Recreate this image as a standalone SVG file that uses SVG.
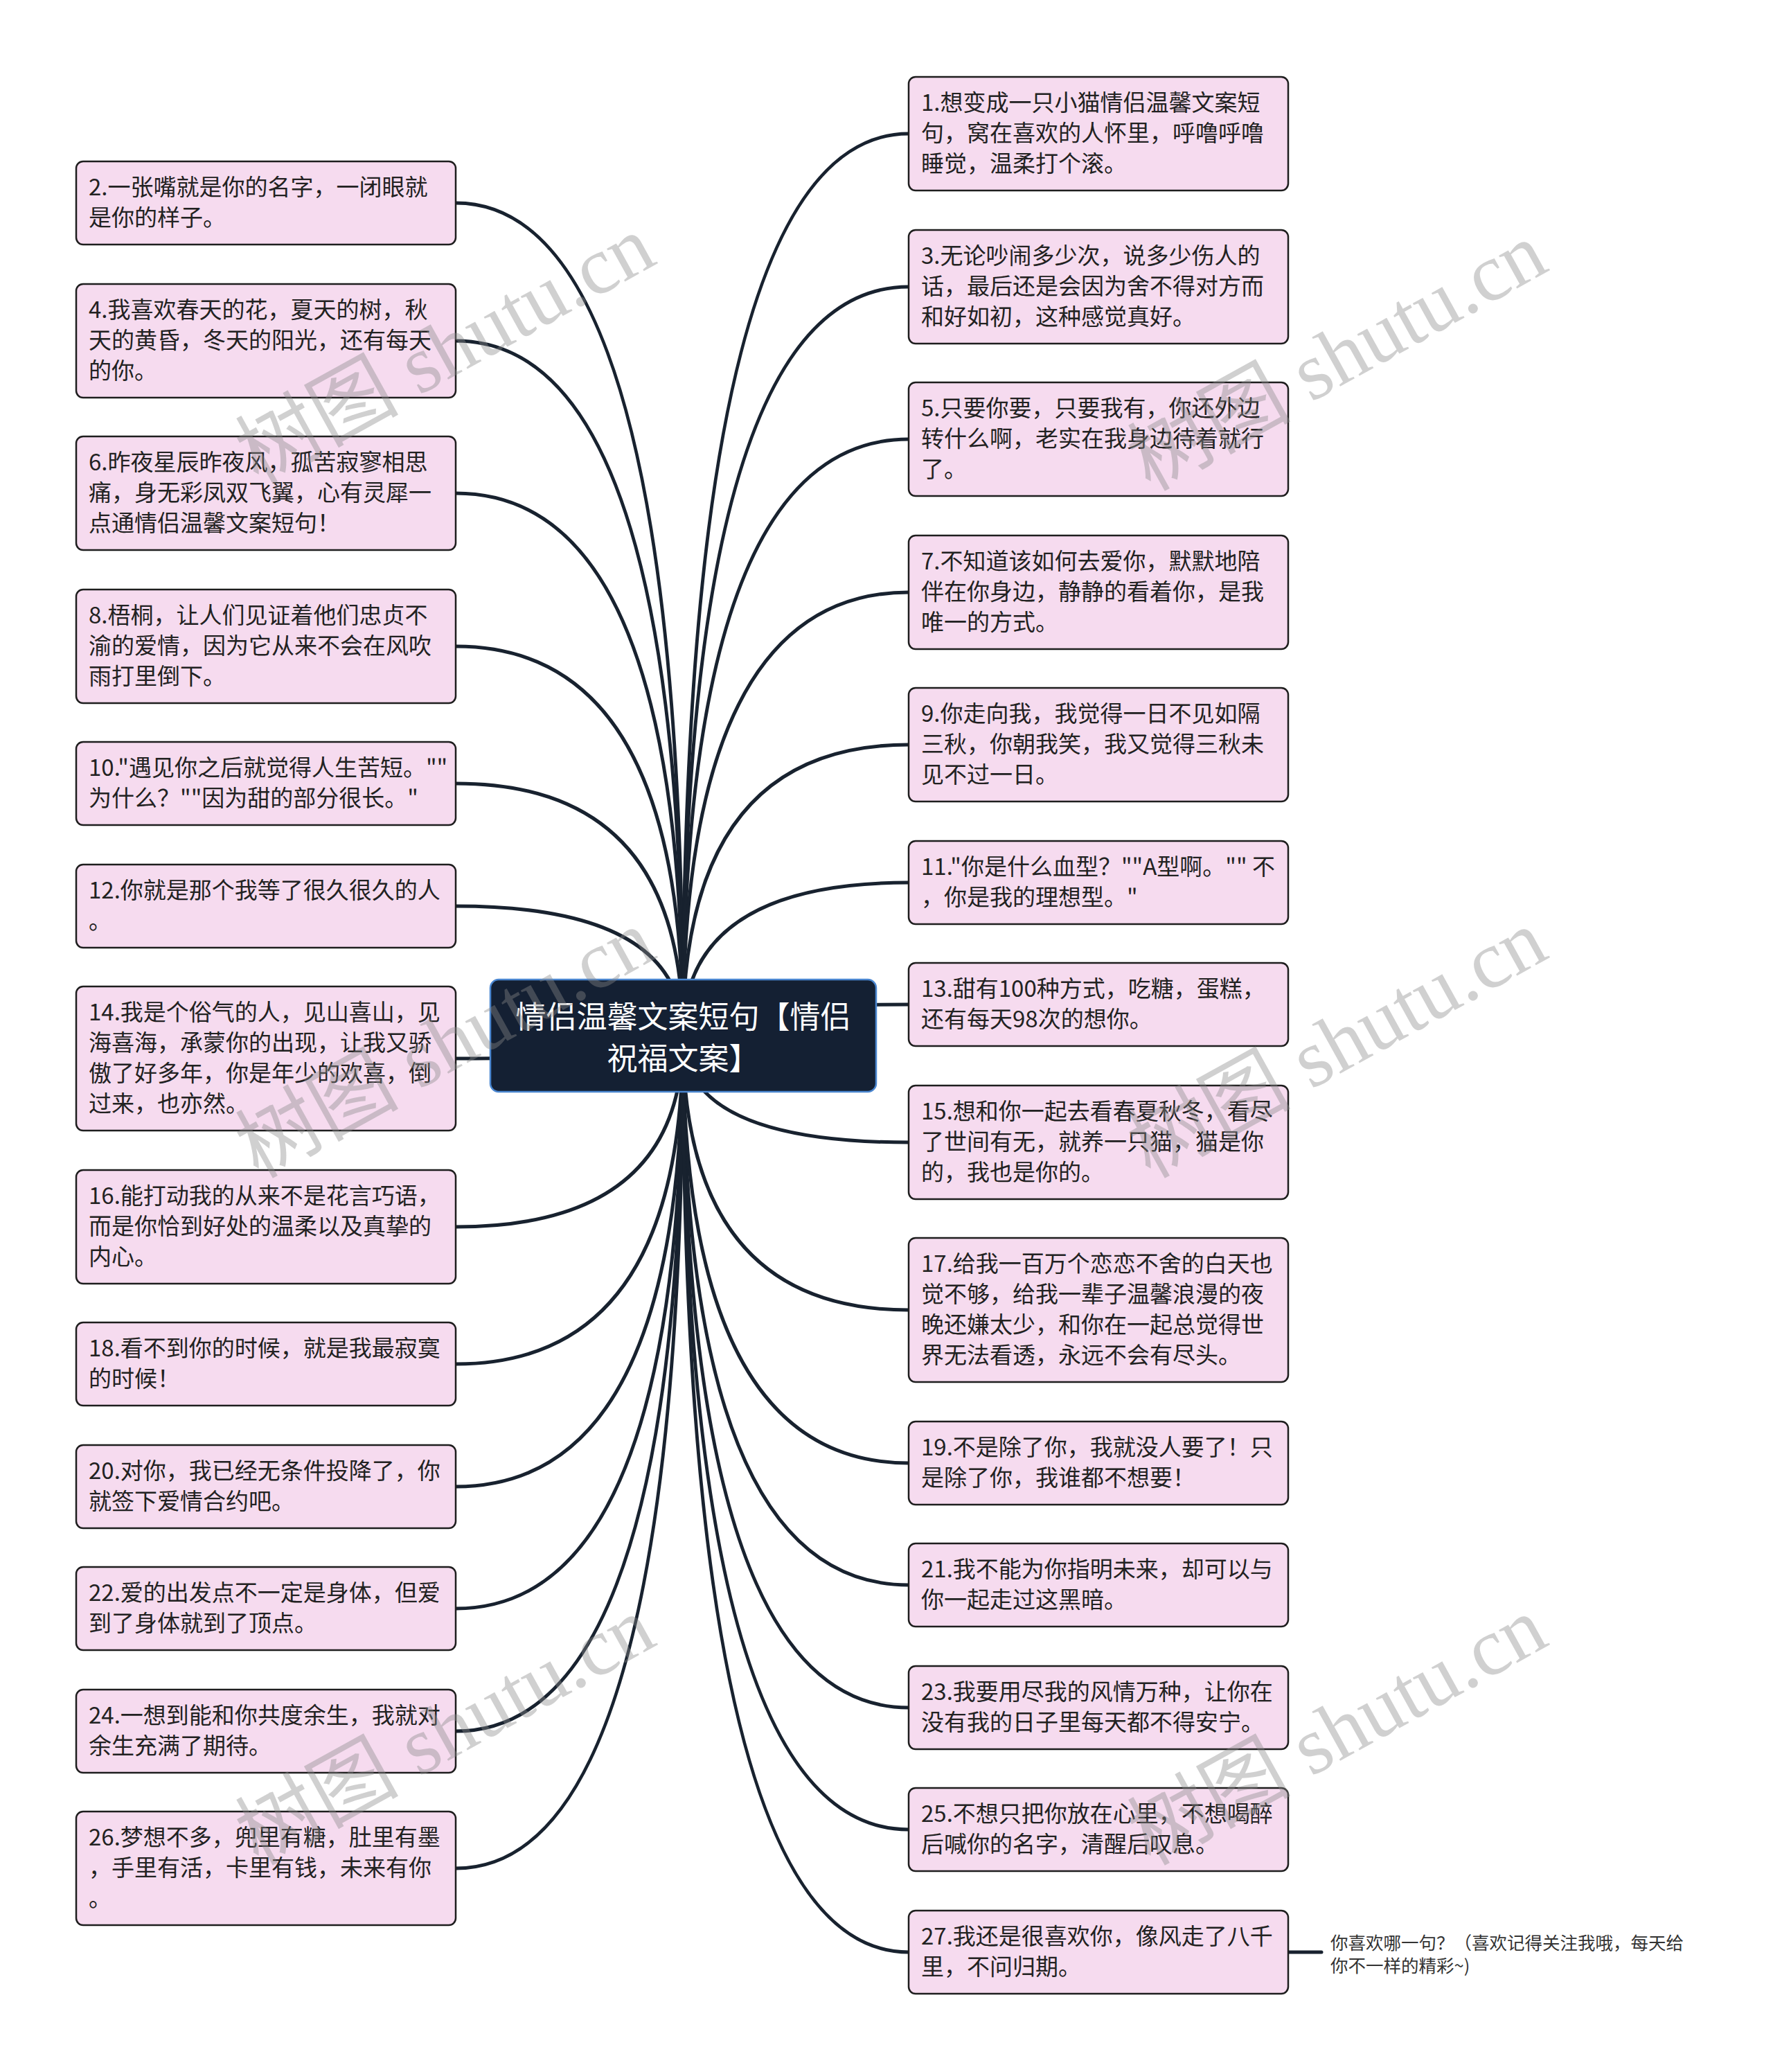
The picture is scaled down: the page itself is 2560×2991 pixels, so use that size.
<svg xmlns="http://www.w3.org/2000/svg" width="2560" height="2991" viewBox="0 0 2560 2991">
<style>
.bg{fill:#ffffff}
.conn path,.conn line{fill:none;stroke:#18222f;stroke-width:5;stroke-linecap:round}
.box{fill:#f6dbef;stroke:#1e1e1e;stroke-width:2.5}
.t{font-family:"Noto Sans CJK SC","Liberation Sans",sans-serif;font-size:33px;fill:#222222;dominant-baseline:central}
.center rect{fill:#142033;stroke:#4a86d0;stroke-width:2.5}
.ct{font-family:"Noto Sans CJK SC","Liberation Sans",sans-serif;font-size:44px;fill:#ffffff;dominant-baseline:central;text-anchor:middle}
.note{font-family:"Noto Sans CJK SC","Liberation Sans",sans-serif;font-size:25.5px;fill:#333333;dominant-baseline:central}
.wm{font-family:"Liberation Serif","Noto Sans CJK SC",serif;font-size:118px;fill:#8a8a8a;fill-opacity:0.4;text-anchor:middle;dominant-baseline:central}
</style>
<rect class="bg" x="0" y="0" width="2560" height="2991"/>
<g id="connectors" class="conn">
<path d="M658,293 Q986,293 986,1495"/>
<path d="M658,492 Q986,492 986,1495"/>
<path d="M658,712 Q986,712 986,1495"/>
<path d="M658,933 Q986,933 986,1495"/>
<path d="M658,1131 Q986,1131 986,1495"/>
<path d="M658,1308 Q986,1308 986,1495"/>
<path d="M658,1528 Q986,1528 986,1495"/>
<path d="M658,1771 Q986,1771 986,1495"/>
<path d="M658,1969 Q986,1969 986,1495"/>
<path d="M658,2146 Q986,2146 986,1495"/>
<path d="M658,2322 Q986,2322 986,1495"/>
<path d="M658,2499 Q986,2499 986,1495"/>
<path d="M658,2697 Q986,2697 986,1495"/>
<path d="M1312,193 Q986,193 986,1495"/>
<path d="M1312,414 Q986,414 986,1495"/>
<path d="M1312,634 Q986,634 986,1495"/>
<path d="M1312,855 Q986,855 986,1495"/>
<path d="M1312,1075 Q986,1075 986,1495"/>
<path d="M1312,1274 Q986,1274 986,1495"/>
<path d="M1312,1450 Q986,1450 986,1495"/>
<path d="M1312,1649 Q986,1649 986,1495"/>
<path d="M1312,1891 Q986,1891 986,1495"/>
<path d="M1312,2112 Q986,2112 986,1495"/>
<path d="M1312,2288 Q986,2288 986,1495"/>
<path d="M1312,2465 Q986,2465 986,1495"/>
<path d="M1312,2641 Q986,2641 986,1495"/>
<path d="M1312,2818 Q986,2818 986,1495"/>
<line x1="1860" y1="2818" x2="1908" y2="2818"/>
</g>
<g id="center" class="center">
<rect x="708" y="1414" width="557" height="162" rx="12"/>
<text class="ct" x="986.5" y="1465">情侣温馨文案短句【情侣</text>
<text class="ct" x="986.5" y="1525">祝福文案】</text>
</g>
<g id="n2"><rect class="box" x="110" y="233" width="548" height="120" rx="10"/><text class="t" x="128" y="268">2.一张嘴就是你的名字，一闭眼就</text><text class="t" x="128" y="312">是你的样子。</text></g>
<g id="n4"><rect class="box" x="110" y="410" width="548" height="164" rx="10"/><text class="t" x="128" y="445">4.我喜欢春天的花，夏天的树，秋</text><text class="t" x="128" y="489">天的黄昏，冬天的阳光，还有每天</text><text class="t" x="128" y="533">的你。</text></g>
<g id="n6"><rect class="box" x="110" y="630" width="548" height="164" rx="10"/><text class="t" x="128" y="665">6.昨夜星辰昨夜风，孤苦寂寥相思</text><text class="t" x="128" y="709">痛，身无彩凤双飞翼，心有灵犀一</text><text class="t" x="128" y="753">点通情侣温馨文案短句！</text></g>
<g id="n8"><rect class="box" x="110" y="851" width="548" height="164" rx="10"/><text class="t" x="128" y="886">8.梧桐，让人们见证着他们忠贞不</text><text class="t" x="128" y="930">渝的爱情，因为它从来不会在风吹</text><text class="t" x="128" y="974">雨打里倒下。</text></g>
<g id="n10"><rect class="box" x="110" y="1071" width="548" height="120" rx="10"/><text class="t" x="128" y="1106">10."遇见你之后就觉得人生苦短。""</text><text class="t" x="128" y="1150">为什么？""因为甜的部分很长。"</text></g>
<g id="n12"><rect class="box" x="110" y="1248" width="548" height="120" rx="10"/><text class="t" x="128" y="1283">12.你就是那个我等了很久很久的人</text><text class="t" x="128" y="1327">。</text></g>
<g id="n14"><rect class="box" x="110" y="1424" width="548" height="208" rx="10"/><text class="t" x="128" y="1459">14.我是个俗气的人，见山喜山，见</text><text class="t" x="128" y="1503">海喜海，承蒙你的出现，让我又骄</text><text class="t" x="128" y="1547">傲了好多年，你是年少的欢喜，倒</text><text class="t" x="128" y="1591">过来，也亦然。</text></g>
<g id="n16"><rect class="box" x="110" y="1689" width="548" height="164" rx="10"/><text class="t" x="128" y="1724">16.能打动我的从来不是花言巧语，</text><text class="t" x="128" y="1768">而是你恰到好处的温柔以及真挚的</text><text class="t" x="128" y="1812">内心。</text></g>
<g id="n18"><rect class="box" x="110" y="1909" width="548" height="120" rx="10"/><text class="t" x="128" y="1944">18.看不到你的时候，就是我最寂寞</text><text class="t" x="128" y="1988">的时候！</text></g>
<g id="n20"><rect class="box" x="110" y="2086" width="548" height="120" rx="10"/><text class="t" x="128" y="2121">20.对你，我已经无条件投降了，你</text><text class="t" x="128" y="2165">就签下爱情合约吧。</text></g>
<g id="n22"><rect class="box" x="110" y="2262" width="548" height="120" rx="10"/><text class="t" x="128" y="2297">22.爱的出发点不一定是身体，但爱</text><text class="t" x="128" y="2341">到了身体就到了顶点。</text></g>
<g id="n24"><rect class="box" x="110" y="2439" width="548" height="120" rx="10"/><text class="t" x="128" y="2474">24.一想到能和你共度余生，我就对</text><text class="t" x="128" y="2518">余生充满了期待。</text></g>
<g id="n26"><rect class="box" x="110" y="2615" width="548" height="164" rx="10"/><text class="t" x="128" y="2650">26.梦想不多，兜里有糖，肚里有墨</text><text class="t" x="128" y="2694">，手里有活，卡里有钱，未来有你</text><text class="t" x="128" y="2738">。</text></g>
<g id="n1"><rect class="box" x="1312" y="111" width="548" height="164" rx="10"/><text class="t" x="1330" y="146">1.想变成一只小猫情侣温馨文案短</text><text class="t" x="1330" y="190">句，窝在喜欢的人怀里，呼噜呼噜</text><text class="t" x="1330" y="234">睡觉，温柔打个滚。</text></g>
<g id="n3"><rect class="box" x="1312" y="332" width="548" height="164" rx="10"/><text class="t" x="1330" y="367">3.无论吵闹多少次，说多少伤人的</text><text class="t" x="1330" y="411">话，最后还是会因为舍不得对方而</text><text class="t" x="1330" y="455">和好如初，这种感觉真好。</text></g>
<g id="n5"><rect class="box" x="1312" y="552" width="548" height="164" rx="10"/><text class="t" x="1330" y="587">5.只要你要，只要我有，你还外边</text><text class="t" x="1330" y="631">转什么啊，老实在我身边待着就行</text><text class="t" x="1330" y="675">了。</text></g>
<g id="n7"><rect class="box" x="1312" y="773" width="548" height="164" rx="10"/><text class="t" x="1330" y="808">7.不知道该如何去爱你，默默地陪</text><text class="t" x="1330" y="852">伴在你身边，静静的看着你，是我</text><text class="t" x="1330" y="896">唯一的方式。</text></g>
<g id="n9"><rect class="box" x="1312" y="993" width="548" height="164" rx="10"/><text class="t" x="1330" y="1028">9.你走向我，我觉得一日不见如隔</text><text class="t" x="1330" y="1072">三秋，你朝我笑，我又觉得三秋未</text><text class="t" x="1330" y="1116">见不过一日。</text></g>
<g id="n11"><rect class="box" x="1312" y="1214" width="548" height="120" rx="10"/><text class="t" x="1330" y="1249">11."你是什么血型？""A型啊。"" 不</text><text class="t" x="1330" y="1293">，你是我的理想型。"</text></g>
<g id="n13"><rect class="box" x="1312" y="1390" width="548" height="120" rx="10"/><text class="t" x="1330" y="1425">13.甜有100种方式，吃糖，蛋糕，</text><text class="t" x="1330" y="1469">还有每天98次的想你。</text></g>
<g id="n15"><rect class="box" x="1312" y="1567" width="548" height="164" rx="10"/><text class="t" x="1330" y="1602">15.想和你一起去看春夏秋冬，看尽</text><text class="t" x="1330" y="1646">了世间有无，就养一只猫，猫是你</text><text class="t" x="1330" y="1690">的，我也是你的。</text></g>
<g id="n17"><rect class="box" x="1312" y="1787" width="548" height="208" rx="10"/><text class="t" x="1330" y="1822">17.给我一百万个恋恋不舍的白天也</text><text class="t" x="1330" y="1866">觉不够，给我一辈子温馨浪漫的夜</text><text class="t" x="1330" y="1910">晚还嫌太少，和你在一起总觉得世</text><text class="t" x="1330" y="1954">界无法看透，永远不会有尽头。</text></g>
<g id="n19"><rect class="box" x="1312" y="2052" width="548" height="120" rx="10"/><text class="t" x="1330" y="2087">19.不是除了你，我就没人要了！只</text><text class="t" x="1330" y="2131">是除了你，我谁都不想要！</text></g>
<g id="n21"><rect class="box" x="1312" y="2228" width="548" height="120" rx="10"/><text class="t" x="1330" y="2263">21.我不能为你指明未来，却可以与</text><text class="t" x="1330" y="2307">你一起走过这黑暗。</text></g>
<g id="n23"><rect class="box" x="1312" y="2405" width="548" height="120" rx="10"/><text class="t" x="1330" y="2440">23.我要用尽我的风情万种，让你在</text><text class="t" x="1330" y="2484">没有我的日子里每天都不得安宁。</text></g>
<g id="n25"><rect class="box" x="1312" y="2581" width="548" height="120" rx="10"/><text class="t" x="1330" y="2616">25.不想只把你放在心里，不想喝醉</text><text class="t" x="1330" y="2660">后喊你的名字，清醒后叹息。</text></g>
<g id="n27"><rect class="box" x="1312" y="2758" width="548" height="120" rx="10"/><text class="t" x="1330" y="2793">27.我还是很喜欢你，像风走了八千</text><text class="t" x="1330" y="2837">里，不问归期。</text></g>
<g id="note"><text class="note" x="1921" y="2802">你喜欢哪一句？（喜欢记得关注我哦，每天给</text><text class="note" x="1921" y="2835">你不一样的精彩~)</text></g>
<g id="watermarks">
<text class="wm" transform="translate(643,505) rotate(-29)">树图 shutu.cn</text>
<text class="wm" transform="translate(1931,515) rotate(-29)">树图 shutu.cn</text>
<text class="wm" transform="translate(643,1507) rotate(-29)">树图 shutu.cn</text>
<text class="wm" transform="translate(1931,1507) rotate(-29)">树图 shutu.cn</text>
<text class="wm" transform="translate(643,2499) rotate(-29)">树图 shutu.cn</text>
<text class="wm" transform="translate(1931,2499) rotate(-29)">树图 shutu.cn</text>
</g>
</svg>
